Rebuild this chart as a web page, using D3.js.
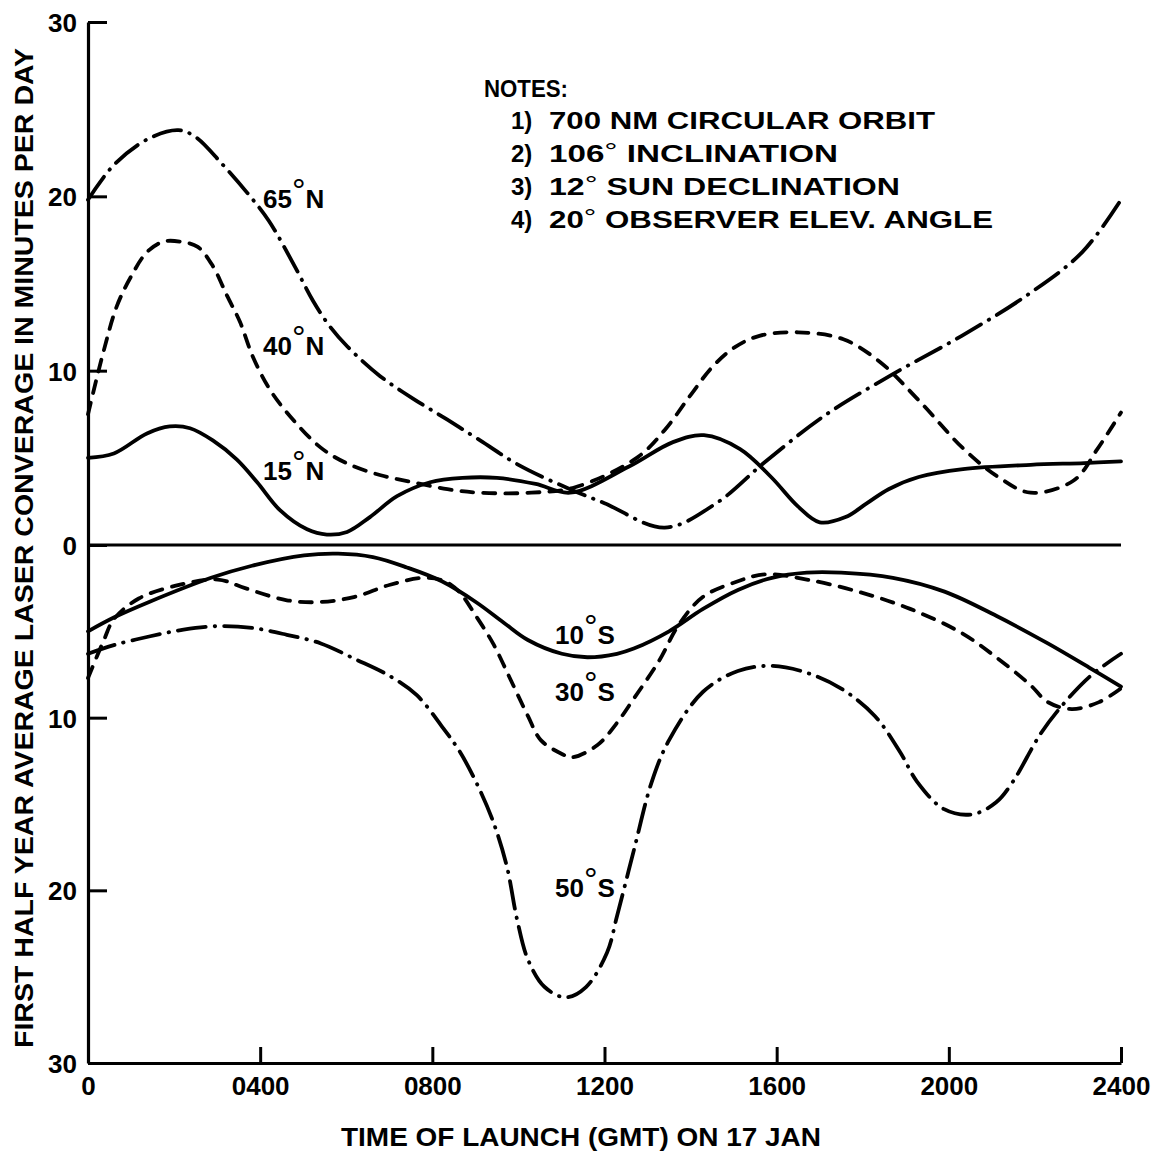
<!DOCTYPE html>
<html>
<head>
<meta charset="utf-8">
<script src="https://cdn.jsdelivr.net/npm/d3@7/dist/d3.min.js"></script>
<style>
  html, body { margin: 0; padding: 0; background: #fff; }
  svg { display: block; }
  text { font-family: "Liberation Sans", Arial, sans-serif; font-weight: bold; fill: #000; }
</style>
</head>
<body>
<svg id="chart" width="1159" height="1154"></svg>
<script>
// Launch time (GMT, hhmm) vs. coverage in minutes/day.
// Northern sites plotted upward, southern sites downward (negative values).
const north65 = [[0,19.8],[60,21.8],[140,23.3],[210,23.8],[250,23.4],[310,21.9],[370,20.2],[420,18.6],[480,16.0],[523,14.0],[560,12.6],[602,11.4],[678,9.7],[755,8.4],[834,7.2],[911,6.0],[1000,4.6],[1120,3.2],[1200,2.4],[1340,1.0],[1460,2.4],[1570,4.7],[1710,7.4],[1870,9.8],[2030,12.0],[2180,14.3],[2310,16.8],[2400,19.8]];
const north40 = [[0,7.5],[35,11.0],[67,13.7],[100,15.4],[137,16.8],[175,17.4],[215,17.4],[255,17.1],[290,16.0],[323,14.3],[353,12.8],[383,10.8],[423,8.9],[476,7.2],[540,5.6],[600,4.7],[680,4.0],[755,3.6],[835,3.2],[910,3.0],[1030,3.0],[1130,3.3],[1275,5.0],[1340,6.6],[1400,8.6],[1450,10.2],[1500,11.3],[1560,12.0],[1650,12.2],[1755,11.8],[1840,10.5],[1930,8.3],[2035,5.5],[2115,3.9],[2190,3.0],[2290,3.7],[2345,5.5],[2400,7.6]];
const north15 = [[0,5.0],[60,5.25],[137,6.4],[190,6.8],[237,6.7],[290,6.0],[346,4.9],[393,3.6],[446,2.0],[509,0.9],[555,0.6],[602,0.75],[655,1.6],[718,2.8],[795,3.6],[870,3.85],[950,3.85],[1040,3.5],[1120,3.0],[1257,4.5],[1359,5.9],[1431,6.3],[1515,5.5],[1587,3.9],[1650,2.2],[1700,1.3],[1760,1.6],[1810,2.4],[1860,3.2],[1930,3.9],[2033,4.35],[2190,4.6],[2315,4.7],[2400,4.8]];
const south10 = [[0,-5.0],[60,-4.2],[142,-3.3],[286,-1.9],[381,-1.2],[502,-0.6],[581,-0.5],[662,-0.7],[741,-1.3],[822,-2.1],[901,-3.3],[966,-4.5],[1022,-5.5],[1101,-6.3],[1160,-6.5],[1229,-6.3],[1268,-6.0],[1350,-5.0],[1429,-3.7],[1510,-2.6],[1589,-1.9],[1670,-1.6],[1750,-1.6],[1870,-1.9],[1990,-2.7],[2110,-4.1],[2230,-5.7],[2326,-7.1],[2400,-8.2]];
const south30 = [[0,-7.7],[37,-5.5],[60,-4.3],[118,-3.1],[214,-2.3],[302,-2.0],[365,-2.5],[462,-3.2],[541,-3.3],[620,-3.0],[702,-2.3],[781,-1.9],[829,-2.1],[862,-2.7],[901,-4.1],[941,-5.7],[980,-7.7],[1022,-9.9],[1052,-11.3],[1101,-12.1],[1124,-12.3],[1183,-11.6],[1229,-10.3],[1268,-8.9],[1327,-6.7],[1373,-4.6],[1429,-3.0],[1510,-2.1],[1573,-1.7],[1670,-2.0],[1789,-2.7],[1910,-3.7],[2030,-5.1],[2110,-6.5],[2189,-8.1],[2230,-9.1],[2286,-9.5],[2349,-9.1],[2400,-8.3]];
const south50 = [[0,-6.3],[60,-5.8],[142,-5.3],[222,-4.9],[302,-4.7],[381,-4.8],[462,-5.2],[541,-5.7],[620,-6.6],[702,-7.6],[764,-8.7],[822,-10.5],[862,-11.9],[901,-13.7],[941,-16.0],[973,-18.6],[997,-21.7],[1022,-24.0],[1061,-25.6],[1110,-26.2],[1157,-25.6],[1206,-23.6],[1229,-21.5],[1268,-17.7],[1310,-13.7],[1350,-11.3],[1429,-8.5],[1510,-7.3],[1589,-7.0],[1670,-7.4],[1749,-8.3],[1828,-9.9],[1887,-12.0],[1926,-13.7],[1989,-15.3],[2054,-15.6],[2110,-14.9],[2149,-13.7],[2214,-10.9],[2270,-9.1],[2333,-7.5],[2400,-6.3]];

const xTicks = [0, 400, 800, 1200, 1600, 2000, 2400];
const xTickLabels = ["0", "0400", "0800", "1200", "1600", "2000", "2400"];
const yTicks = [30, 20, 10, 0, -10, -20, -30];

const latLabels = [
  { deg: "65", hemi: "N" }, { deg: "40", hemi: "N" }, { deg: "15", hemi: "N" },
  { deg: "10", hemi: "S" }, { deg: "30", hemi: "S" }, { deg: "50", hemi: "S" }
];
const notes = [
  { num: "1)", pre: "700 NM CIRCULAR ORBIT", deg: "", post: "" },
  { num: "2)", pre: "106", deg: "°", post: " INCLINATION" },
  { num: "3)", pre: "12", deg: "°", post: " SUN DECLINATION" },
  { num: "4)", pre: "20", deg: "°", post: " OBSERVER ELEV. ANGLE" }
];

const svg = d3.select("#chart");

const x = d3.scaleLinear().domain([0, 2400]).range([88, 1121]);
const y = d3.scaleLinear().domain([30, 0, -30]).range([22, 545, 1063]);

// axes
const yAxis = d3.axisLeft(y).tickValues(yTicks).tickSize(-19).tickSizeOuter(0)
  .tickPadding(11).tickFormat(d => Math.abs(d));
const gy = svg.append("g").attr("transform", `translate(${x(0)},0)`).call(yAxis);

const xAxis = d3.axisBottom(x).tickValues(xTicks).tickSize(-16).tickSizeOuter(0)
  .tickPadding(13).tickFormat((d, i) => xTickLabels[i]);
const gx = svg.append("g").attr("transform", `translate(0,${y(-30)})`).call(xAxis);

[gx, gy].forEach(g => {
  g.select(".domain").attr("stroke", "#000").attr("stroke-width", 3.2);
  g.selectAll(".tick line").attr("stroke", "#000").attr("stroke-width", 3);
  g.selectAll(".tick text").style("font-family", "'Liberation Sans', Arial, sans-serif")
    .style("font-weight", "bold").attr("font-size", 26).attr("fill", "#000");
});
gy.selectAll(".tick text").attr("dy", "0.36em");
gx.selectAll(".tick text").attr("dy", "0.72em");

// zero line
svg.append("line")
  .attr("x1", x(0)).attr("x2", x(2400))
  .attr("y1", y(0)).attr("y2", y(0))
  .attr("stroke", "#000").attr("stroke-width", 3);

// curves
const line = d3.line().x(d => x(d[0])).y(d => y(d[1])).curve(d3.curveCatmullRom.alpha(0.5));
const DASHDOT = "28 9 0.5 9";
const DASHED = "12 10";
const series = [
  { data: north65, dash: DASHDOT },
  { data: north40, dash: DASHED },
  { data: north15, dash: null },
  { data: south10, dash: null },
  { data: south30, dash: DASHED },
  { data: south50, dash: DASHDOT }
];
svg.append("g").selectAll("path").data(series).join("path")
  .attr("d", d => line(d.data))
  .attr("fill", "none")
  .attr("stroke", "#000")
  .attr("stroke-width", 3.8)
  .attr("stroke-linecap", "round")
  .attr("stroke-linejoin", "round")
  .attr("stroke-dasharray", d => d.dash);

// latitude labels
const labelPos = [[263, 208], [263, 355], [263, 480], [555, 644], [555, 701], [555, 897]];
const lab = svg.append("g").selectAll("text").data(latLabels).join("text")
  .attr("x", (d, i) => labelPos[i][0]).attr("y", (d, i) => labelPos[i][1])
  .attr("font-size", 26);
lab.append("tspan").text(d => d.deg);
lab.append("tspan").attr("dy", -6).attr("font-size", 34).attr("font-weight", "normal").text("°");
lab.append("tspan").attr("dy", 6).text(d => d.hemi);

// notes block
const ng = svg.append("g");
ng.append("text").attr("x", 484).attr("y", 97).attr("font-size", 24)
  .attr("textLength", 84).attr("lengthAdjust", "spacingAndGlyphs").text("NOTES:");
const noteW = [386, 289, 351, 444];
notes.forEach((n, i) => {
  const by = 129 + i * 33;
  ng.append("text").attr("x", 511).attr("y", by).attr("font-size", 24).text(n.num);
  const t = ng.append("text").attr("x", 549).attr("y", by).attr("font-size", 24)
    .attr("textLength", noteW[i]).attr("lengthAdjust", "spacingAndGlyphs");
  t.append("tspan").text(n.pre);
  if (n.deg) {
    t.append("tspan").attr("dy", -3).attr("font-size", 24).attr("font-weight", "normal").text(n.deg);
    t.append("tspan").attr("dy", 3).text(n.post);
  }
});

// axis titles
svg.append("text")
  .attr("transform", "translate(33,548) rotate(-90)")
  .attr("text-anchor", "middle").attr("font-size", 26)
  .attr("textLength", 1000).attr("lengthAdjust", "spacingAndGlyphs")
  .text("FIRST HALF YEAR AVERAGE LASER CONVERAGE IN MINUTES PER DAY");

svg.append("text")
  .attr("x", 581).attr("y", 1146)
  .attr("text-anchor", "middle").attr("font-size", 25)
  .attr("textLength", 480).attr("lengthAdjust", "spacingAndGlyphs")
  .text("TIME OF LAUNCH (GMT) ON 17 JAN");
</script>
</body>
</html>
